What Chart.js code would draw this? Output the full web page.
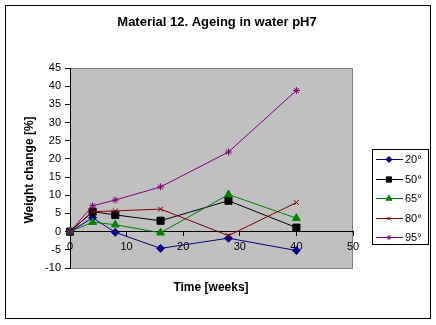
<!DOCTYPE html>
<html>
<head>
<meta charset="utf-8">
<title>Material 12. Ageing in water pH7</title>
<script src="https://cdn.jsdelivr.net/npm/chart.js@4/dist/chart.umd.min.js"></script>
<style>
  html, body { margin:0; padding:0; background:#fff; }
  #wrap { width:436px; height:325px; }
</style>
</head>
<body>
<div id="wrap"><canvas id="chart" width="436" height="325"></canvas></div>
<script>
/* ---------- data ---------- */
const weeks    = [0, 4, 8, 16, 28, 40];
const temps    = ['20°', '50°', '65°', '80°', '95°'];
const wc20     = [0, 3.8, -0.2, -4.6, -1.8, -5.2];
const wc50     = [0, 5.5, 4.6, 3.0, 8.5, 1.1];
const wc65     = [0, 2.6, 1.9, -0.3, 10.2, 3.7];
const wc80     = [0, 5.5, 5.7, 6.2, -1.1, 8.0];
const wc95     = [0, 7.1, 8.7, 12.3, 21.9, 38.8];
const xTicks   = [0, 10, 20, 30, 40, 50];
const yTicks   = [-10, -5, 0, 5, 10, 15, 20, 25, 30, 35, 40, 45];

/* ---------- look of each series ---------- */
const FONT    = "'Liberation Sans', Arial, sans-serif";
const colors  = ['#000080', '#000000', '#008000', '#800000', '#800080'];
const marks   = ['rectRot', 'rect', 'triangle', 'crossRot', 'star'];
const sizes   = [4, 5, 4.5, 3.5, 3.5];
const keySize = [3, 3.7, 3.5, 2.6, 2.6];   // smaller markers in the legend
const series  = [wc20, wc50, wc65, wc80, wc95];

const datasets = series.map((vals, i) => ({
  label: temps[i],
  data: weeks.map((w, j) => ({ x: w, y: vals[j] })),
  borderColor: colors[i],
  backgroundColor: colors[i],
  borderWidth: 1,
  pointStyle: marks[i],
  pointRadius: sizes[i],
  pointBorderWidth: 1,
  pointBackgroundColor: colors[i],
  pointBorderColor: colors[i],
  tension: 0,
  clip: false,
  order: series.length - i          // later series sit on top
}));

/* ---------- frame, titles and legend ---------- */
const decor = {
  id: 'decor',
  beforeDraw(chart) {
    const { ctx, chartArea: a } = chart;
    ctx.save();
    ctx.fillStyle = '#fff';
    ctx.fillRect(0, 0, chart.width, chart.height);
    ctx.strokeStyle = '#000';
    ctx.lineWidth = 1;
    ctx.strokeRect(5.5, 5.5, 425, 313);
    // plot area
    ctx.fillStyle = '#c0c0c0';
    ctx.fillRect(a.left, a.top, a.right - a.left, a.bottom - a.top);
    ctx.strokeStyle = '#808080';
    ctx.strokeRect(a.left + 0.5, a.top + 0.5, a.right - a.left - 1, a.bottom - a.top);
    ctx.restore();
  },
  afterDraw(chart) {
    const { ctx, chartArea: a } = chart;
    ctx.save();
    ctx.fillStyle = '#000';
    ctx.textAlign = 'center';
    ctx.textBaseline = 'middle';
    ctx.font = 'bold 13px ' + FONT;
    ctx.fillText('Material 12. Ageing in water pH7', 217, 22);
    ctx.font = 'bold 12px ' + FONT;
    ctx.fillText('Time [weeks]', 211, 288);
    ctx.translate(30, (a.top + a.bottom) / 2 + 2);
    ctx.rotate(-Math.PI / 2);
    ctx.fillText('Weight change [%]', 0, 0);
    ctx.restore();

    // legend box
    ctx.save();
    ctx.fillStyle = '#fff';
    ctx.fillRect(372, 149, 56, 95);
    ctx.strokeStyle = '#000';
    ctx.lineWidth = 1;
    ctx.strokeRect(372.5, 149.5, 56, 95);
    ctx.font = '11px ' + FONT;
    ctx.textAlign = 'left';
    ctx.textBaseline = 'middle';
    temps.forEach((t, i) => {
      const y = Math.round(159 + i * 19.6) + 0.5;
      ctx.strokeStyle = colors[i];
      ctx.beginPath();
      ctx.moveTo(376, y);
      ctx.lineTo(403, y);
      ctx.stroke();
      if (Chart.helpers && Chart.helpers.drawPoint) {
        ctx.fillStyle = colors[i];
        Chart.helpers.drawPoint(ctx,
          { pointStyle: marks[i], radius: keySize[i], borderWidth: 1, rotation: 0 },
          389, y);
      }
      ctx.fillStyle = '#000';
      ctx.fillText(t, 405, y + 0.5);
    });
    ctx.restore();
  }
};

/* ---------- chart ---------- */
new Chart(document.getElementById('chart'), {
  type: 'line',
  data: { datasets },
  plugins: [decor],
  options: {
    responsive: false,
    animation: false,
    events: [],
    layout: { padding: { left: 40, right: 83, top: 68, bottom: 57 } },
    plugins: { legend: { display: false }, tooltip: { enabled: false } },
    scales: {
      x: {
        type: 'linear',
        position: { y: 0 },
        min: xTicks[0], max: xTicks[xTicks.length - 1],
        afterBuildTicks: s => { s.ticks = xTicks.map(v => ({ value: v })); },
        ticks: { color: '#000', font: { family: FONT, size: 11 }, padding: 5, maxRotation: 0 },
        grid: { drawOnChartArea: false, tickLength: 4, color: '#000' },
        border: { color: '#000' }
      },
      y: {
        type: 'linear',
        min: yTicks[0], max: yTicks[yTicks.length - 1],
        afterBuildTicks: s => { s.ticks = yTicks.map(v => ({ value: v })); },
        afterFit: s => { s.width = 30; },
        ticks: { color: '#000', font: { family: FONT, size: 11 }, padding: 4 },
        grid: { drawOnChartArea: false, tickLength: 5, color: '#000' },
        border: { color: '#000' }
      }
    }
  }
});
</script>
</body>
</html>
